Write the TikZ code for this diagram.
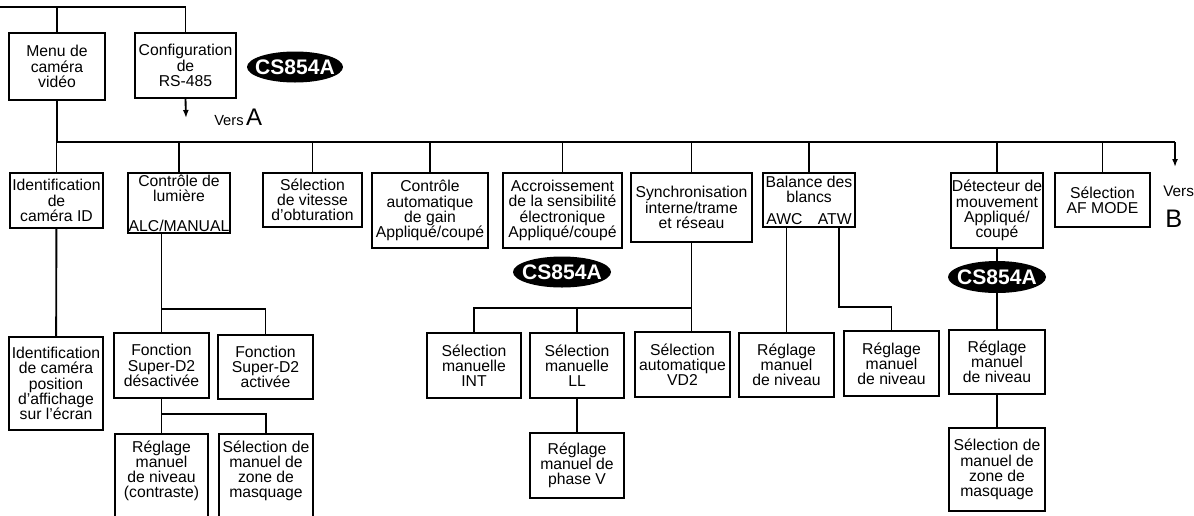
\documentclass[tikz,border=0pt]{standalone}
\usepackage{fontspec}
\setmainfont{Liberation Sans}
\usetikzlibrary{shapes.geometric,arrows.meta}
\tikzset{
  box/.style={draw, line width=1.4pt, align=center, inner sep=0pt,
    font=\fontsize{11.8}{11.4}\selectfont},
  conn/.style={line width=1.4pt},
  arr/.style={line width=1.4pt, -{Latex[length=6pt,width=4.5pt]}},
  badge/.style={ellipse, fill=black, text=white, inner sep=0pt,
    font=\fontsize{15.8}{15.8}\selectfont\bfseries},
  plain/.style={inner sep=0pt},
}
\newcommand\mybox[6]{\node[box, minimum width={(#4-#2)*0.75pt}, minimum height={(#5-#3)*0.75pt}] (#1) at ({(#2+#4)/2},{(#3+#5)/2}) {#6};}
\newcommand\badgetext{\makebox[0pt]{CS854A}}
\begin{document}
\begin{tikzpicture}[x=0.75pt,y=-0.75pt]
\useasboundingbox (0,0) rectangle (1194,515);
% top level
\mybox{menu}{9}{33}{105}{100}{Menu de\\caméra\\vidéo}
\mybox{config}{135}{33}{236}{98}{Configuration\\de\\RS-485}
\node[badge, minimum width={96*0.75pt}, minimum height={31*0.75pt}] (cs1) at (295,67) {\badgetext};
\coordinate (top0) at (0,7);
\draw[conn] (top0) -| (config.north);
\draw[conn] (menu.north) -- (menu.north |- top0);
\coordinate (arrA) at (186,118);
\draw[arr] (config.south) -- (arrA);
\node[plain, anchor=base west] (versA) at (214,125) {\fontsize{11}{11}\selectfont Vers\,\fontsize{18}{18}\selectfont A};
% main bus
\coordinate (bus0) at (57,142);
\coordinate (busE) at (1175,142);
\coordinate (arrB) at (1175,167);
\draw[conn] (menu.south) -- (bus0) -- (busE);
\draw[arr] (busE) -- (arrB);
\node[plain, anchor=base west] (versB) at (1163,196) {\fontsize{11.5}{11.5}\selectfont Vers};
\node[plain, anchor=base west] (letB) at (1165,227) {\fontsize{19}{19}\selectfont B};
% row 1
\mybox{id}{10}{173}{103}{228}{Identification\\de\\caméra ID}
\mybox{lum}{128}{173}{230}{233}{Contrôle de\\lumière\\[11pt]ALC/MANUAL}
\mybox{vit}{263}{173}{362}{227}{Sélection\\de vitesse\\d'obturation}
\mybox{cag}{372}{173}{488}{248}{Contrôle\\automatique\\de gain\\Appliqué/coupé}
\mybox{acc}{503}{173}{622}{248}{Accroissement\\de la sensibilité\\électronique\\Appliqué/coupé}
\mybox{sync}{631}{173}{752}{242}{Synchronisation\\interne/trame\\et réseau}
\mybox{bal}{763}{173}{855}{227}{Balance des\\blancs\\[5pt]\makebox[64pt]{AWC\hfill ATW}}
\mybox{det}{951}{173}{1043}{248}{Détecteur de\\mouvement\\Appliqué/\\coupé}
\mybox{af}{1055}{173}{1150}{227}{Sélection\\AF MODE}
\foreach \n in {id,lum,vit,cag,acc,sync,bal,det,af}
  \draw[conn] (\n.north) -- (\n.north |- bus0);
% identification branch
\mybox{idtwo}{9}{337}{103}{430}{Identification\\de caméra\\position\\d'affichage\\sur l'écran}
\draw[conn] (id) -- (idtwo);
% light control branch
\mybox{fd}{114}{333}{209}{398}{Fonction\\Super-D2\\désactivée}
\mybox{fa}{218}{335}{313}{399}{Fonction\\Super-D2\\activée}
\coordinate (jone) at (161.5,309);
\draw[conn] (fd.north) -- (fd.north |- lum.south);
\draw[conn] (jone) -| (fa.north);
\node[box, anchor=north, minimum width={93*0.75pt}, inner ysep=5pt, text depth=80pt] (rg) at (161.5,433) {Réglage\\manuel\\de niveau\\(contraste)};
\node[box, anchor=north, minimum width={94*0.75pt}, inner ysep=5pt, text depth=80pt] (sm) at (266,433) {Sélection de\\manuel de\\zone de\\masquage};
\coordinate (jtwo) at (161.5,414);
\draw[conn] (fd.south) -- (rg.north);
\draw[conn] (jtwo) -| (sm.north);
% CS854A middle
\node[badge, minimum width={98*0.75pt}, minimum height={31*0.75pt}] (cs2) at (562,272) {\badgetext};
% synchronisation branch
\mybox{int}{427}{333}{521}{398}{Sélection\\manuelle\\INT}
\mybox{ll}{530}{333}{624}{398}{Sélection\\manuelle\\LL}
\mybox{vd}{635}{332}{730}{397}{Sélection\\automatique\\VD2}
\mybox{phase}{530}{433}{624}{498}{Réglage\\manuel de\\phase V}
\coordinate (jthree) at (691.5,308);
\draw[conn] (sync.south) -- (sync.south |- vd.north);
\draw[conn] (int.north) |- (jthree);
\draw[conn] (ll.north) -- (ll.north |- jthree);
\draw[conn] (ll) -- (phase);
% white balance branch
\mybox{awc}{739}{333}{834}{397}{Réglage\\manuel\\de niveau}
\mybox{atw}{844}{331}{939}{396}{Réglage\\manuel\\de niveau}
\draw[conn] (awc.north) -- (awc.north |- bal.south);
\coordinate (atwo) at (839,227);
\coordinate (atwj) at (839,307);
\draw[conn] (atwo) -- (atwj) -| (atw.north);
% motion detector branch
\node[badge, minimum width={98*0.75pt}, minimum height={32*0.75pt}] (cs3) at (997,277) {\badgetext};
\mybox{dr}{949}{330}{1045}{394}{Réglage\\manuel\\de niveau}
\mybox{dm}{949}{428}{1045}{511}{Sélection de\\manuel de\\zone de\\masquage}
\draw[conn] (det) -- (cs3);
\draw[conn] (cs3) -- (dr);
\draw[conn] (dr) -- (dm);
\end{tikzpicture}
\end{document}
